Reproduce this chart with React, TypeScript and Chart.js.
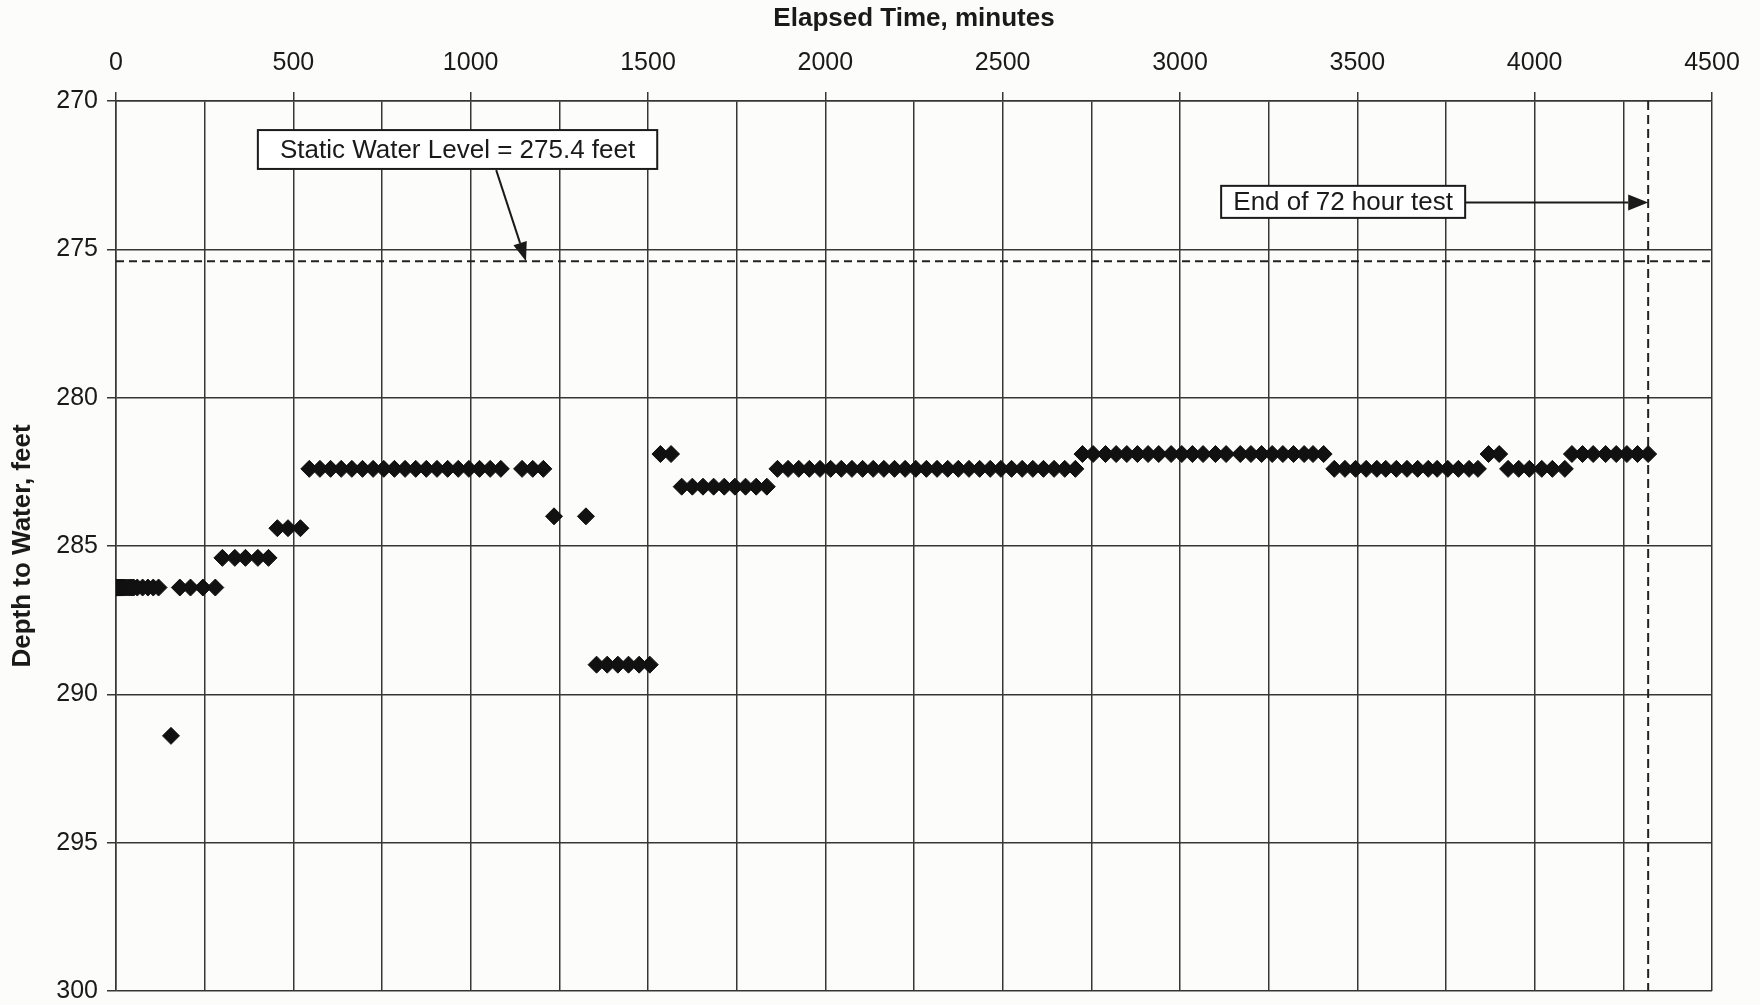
import React, { useEffect, useRef } from 'react';
import { Chart, registerables } from 'chart.js';

Chart.register(...registerables);

const FONT = '"Liberation Sans", Arial, Helvetica, sans-serif';
const INK = '#1a1a1a';
const GRID = '#363636';
const PAGE_BG = '#fcfcfa';

// axes
const X_MIN = 0;
const X_MAX = 4500;
const X_GRID_STEP = 250;
const X_LABEL_STEP = 500;
const Y_MIN = 270;
const Y_MAX = 300;
const Y_STEP = 5;
const X_TITLE = 'Elapsed Time, minutes';
const Y_TITLE = 'Depth to Water, feet';

// readings (elapsed minutes, depth to water in feet)
const READING_TIMES = [
  0, 1, 2, 3, 4, 5, 6, 7, 8, 9, 10, 12, 14, 16, 18, 20, 25, 30, 35, 40, 45, 50, 60, 75, 90, 105, 120,
  155,
  180, 210, 245, 280,
  300, 335, 365, 400, 430,
  455, 485, 520,
  545, 575, 605, 635, 665, 695, 725, 755, 785, 815, 845, 875, 905, 935, 965, 995, 1025, 1055, 1085, 1145, 1175, 1205,
  1235, 1325,
  1355, 1385, 1415, 1445, 1475, 1505,
  1535, 1565,
  1595, 1625, 1655, 1685, 1715, 1745, 1775, 1805, 1835,
  1865, 1895, 1925, 1955, 1985, 2015, 2045, 2075, 2105, 2135, 2165, 2195, 2225, 2255, 2285, 2315, 2345, 2375, 2405, 2435, 2465, 2495, 2525, 2555, 2585, 2615, 2645, 2675, 2705,
  2725, 2755, 2790, 2820, 2850, 2880, 2910, 2940, 2975, 3005, 3035, 3065, 3100, 3130,
  3170, 3200, 3230, 3260, 3290, 3320, 3350, 3375, 3405,
  3435, 3465, 3495, 3525, 3555, 3580, 3610, 3640, 3670, 3700, 3725, 3755, 3785, 3815, 3840,
  3870, 3900,
  3925, 3955, 3985, 4020, 4050, 4085,
  4105, 4135, 4165, 4200, 4230, 4260, 4290, 4320,
];

const READING_DEPTHS = [
  286.4, 286.4, 286.4, 286.4, 286.4, 286.4, 286.4, 286.4, 286.4, 286.4, 286.4, 286.4, 286.4, 286.4, 286.4, 286.4, 286.4, 286.4, 286.4, 286.4, 286.4, 286.4, 286.4, 286.4, 286.4, 286.4, 286.4,
  291.4,
  286.4, 286.4, 286.4, 286.4,
  285.4, 285.4, 285.4, 285.4, 285.4,
  284.4, 284.4, 284.4,
  282.4, 282.4, 282.4, 282.4, 282.4, 282.4, 282.4, 282.4, 282.4, 282.4, 282.4, 282.4, 282.4, 282.4, 282.4, 282.4, 282.4, 282.4, 282.4, 282.4, 282.4, 282.4,
  284.0, 284.0,
  289.0, 289.0, 289.0, 289.0, 289.0, 289.0,
  281.9, 281.9,
  283.0, 283.0, 283.0, 283.0, 283.0, 283.0, 283.0, 283.0, 283.0,
  282.4, 282.4, 282.4, 282.4, 282.4, 282.4, 282.4, 282.4, 282.4, 282.4, 282.4, 282.4, 282.4, 282.4, 282.4, 282.4, 282.4, 282.4, 282.4, 282.4, 282.4, 282.4, 282.4, 282.4, 282.4, 282.4, 282.4, 282.4, 282.4,
  281.9, 281.9, 281.9, 281.9, 281.9, 281.9, 281.9, 281.9, 281.9, 281.9, 281.9, 281.9, 281.9, 281.9,
  281.9, 281.9, 281.9, 281.9, 281.9, 281.9, 281.9, 281.9, 281.9,
  282.4, 282.4, 282.4, 282.4, 282.4, 282.4, 282.4, 282.4, 282.4, 282.4, 282.4, 282.4, 282.4, 282.4, 282.4,
  281.9, 281.9,
  282.4, 282.4, 282.4, 282.4, 282.4, 282.4,
  281.9, 281.9, 281.9, 281.9, 281.9, 281.9, 281.9, 281.9,
];

const STATIC_WATER_LEVEL = 275.4;
const END_OF_TEST_MIN = 4320;

const STATIC_LABEL = 'Static Water Level = 275.4 feet';
const END_LABEL = 'End of 72 hour test';

// annotation anchors in data units (minutes, feet)
const STATIC_BOX = { x1: 400, x2: 1526, y1: 270.98, y2: 272.29 };
const STATIC_ARROW = { fromX: 1072, fromY: 272.33, toX: 1156, toY: STATIC_WATER_LEVEL };
const END_BOX = { x1: 3116, x2: 3804, y1: 272.86, y2: 273.94 };
const END_ARROW = { fromX: 3804, fromY: 273.42, toX: END_OF_TEST_MIN, toY: 273.42 };

function drawArrow(ctx: CanvasRenderingContext2D, x1: number, y1: number, x2: number, y2: number, headLen: number, headHalf: number) {
  const ang = Math.atan2(y2 - y1, x2 - x1);
  const bx = x2 - headLen * Math.cos(ang);
  const by = y2 - headLen * Math.sin(ang);
  ctx.beginPath();
  ctx.moveTo(x1, y1);
  ctx.lineTo(bx, by);
  ctx.stroke();
  ctx.beginPath();
  ctx.moveTo(x2, y2);
  ctx.lineTo(bx + headHalf * Math.sin(ang), by - headHalf * Math.cos(ang));
  ctx.lineTo(bx - headHalf * Math.sin(ang), by + headHalf * Math.cos(ang));
  ctx.closePath();
  ctx.fill();
}

function drawBox(ctx: CanvasRenderingContext2D, chart: any, box: { x1: number; x2: number; y1: number; y2: number }, text: string) {
  const xs = chart.scales.x;
  const ys = chart.scales.y;
  const l = xs.getPixelForValue(box.x1);
  const r = xs.getPixelForValue(box.x2);
  const t = ys.getPixelForValue(box.y1);
  const b = ys.getPixelForValue(box.y2);
  ctx.fillStyle = '#ffffff';
  ctx.fillRect(l, t, r - l, b - t);
  ctx.lineWidth = 2;
  ctx.strokeStyle = INK;
  ctx.strokeRect(l, t, r - l, b - t);
  ctx.fillStyle = INK;
  ctx.font = `26px ${FONT}`;
  ctx.textAlign = 'center';
  ctx.textBaseline = 'middle';
  ctx.fillText(text, (l + r) / 2, (t + b) / 2 + 1);
}

const annotationPlugin = {
  id: 'pumpTestAnnotations',
  afterDatasetsDraw(chart: any) {
    const ctx: CanvasRenderingContext2D = chart.ctx;
    const xs = chart.scales.x;
    const ys = chart.scales.y;
    ctx.save();
    drawBox(ctx, chart, STATIC_BOX, STATIC_LABEL);
    drawBox(ctx, chart, END_BOX, END_LABEL);
    ctx.strokeStyle = INK;
    ctx.fillStyle = INK;
    ctx.lineWidth = 2;
    drawArrow(
      ctx,
      xs.getPixelForValue(STATIC_ARROW.fromX),
      ys.getPixelForValue(STATIC_ARROW.fromY),
      xs.getPixelForValue(STATIC_ARROW.toX),
      ys.getPixelForValue(STATIC_ARROW.toY),
      19,
      7
    );
    drawArrow(
      ctx,
      xs.getPixelForValue(END_ARROW.fromX),
      ys.getPixelForValue(END_ARROW.fromY),
      xs.getPixelForValue(END_ARROW.toX),
      ys.getPixelForValue(END_ARROW.toY),
      20,
      8
    );
    ctx.restore();
  },
};

export default function App() {
  const canvasRef = useRef<HTMLCanvasElement | null>(null);

  useEffect(() => {
    if (!canvasRef.current) return;
    const points = READING_TIMES.map((t, i) => ({ x: t, y: READING_DEPTHS[i] }));
    const chart = new Chart(canvasRef.current, {
      type: 'scatter',
      data: {
        datasets: [
          {
            label: 'Depth to water',
            data: points,
            pointStyle: 'rectRot',
            pointRadius: 8.5,
            pointHoverRadius: 8.5,
            backgroundColor: '#111111',
            borderColor: '#111111',
            borderWidth: 1,
          },
          {
            label: 'Static water level',
            data: [
              { x: X_MIN, y: STATIC_WATER_LEVEL },
              { x: X_MAX, y: STATIC_WATER_LEVEL },
            ],
            showLine: true,
            pointRadius: 0,
            borderColor: '#222222',
            borderWidth: 2,
            borderDash: [8, 5],
          },
          {
            label: 'End of test',
            data: [
              { x: END_OF_TEST_MIN, y: Y_MIN },
              { x: END_OF_TEST_MIN, y: Y_MAX },
            ],
            showLine: true,
            pointRadius: 0,
            borderColor: '#222222',
            borderWidth: 2,
            borderDash: [9, 5],
          },
        ],
      } as any,
      options: {
        animation: false,
        responsive: false,
        events: [],
        layout: { padding: { left: 0, top: 0, right: 48, bottom: 14 } },
        plugins: {
          legend: { display: false },
          tooltip: { enabled: false },
        },
        scales: {
          x: {
            type: 'linear',
            position: 'top',
            min: X_MIN,
            max: X_MAX,
            afterFit: (scale: any) => {
              scale.height = 101;
            },
            ticks: {
              stepSize: X_GRID_STEP,
              autoSkip: false,
              maxRotation: 0,
              padding: 14,
              color: INK,
              font: { family: FONT, size: 25 },
              callback: (v: any) => (Number(v) % X_LABEL_STEP === 0 ? String(v) : ''),
            },
            grid: {
              color: GRID,
              lineWidth: 1.5,
              tickLength: 9,
              tickColor: (ctx: any) =>
                ctx.tick && ctx.tick.value % X_LABEL_STEP === 0 ? GRID : 'rgba(0,0,0,0)',
            },
            border: { display: true, color: GRID, width: 1.5 },
            title: {
              display: true,
              text: X_TITLE,
              color: INK,
              font: { family: FONT, size: 26, weight: 'bold' },
              padding: { top: 3, bottom: 0 },
            },
          },
          y: {
            type: 'linear',
            position: 'left',
            reverse: true,
            min: Y_MIN,
            max: Y_MAX,
            afterFit: (scale: any) => {
              scale.width = 116;
              scale.paddingTop = 0;
              scale.paddingBottom = 0;
            },
            ticks: {
              stepSize: Y_STEP,
              padding: 9,
              color: INK,
              font: { family: FONT, size: 25 },
            },
            grid: {
              color: GRID,
              lineWidth: 1.5,
              tickLength: 9,
              tickColor: GRID,
            },
            border: { display: true, color: GRID, width: 1.5 },
            title: {
              display: true,
              text: Y_TITLE,
              color: INK,
              font: { family: FONT, size: 26, weight: 'bold' },
              padding: { top: 7, bottom: 0 },
            },
          },
        },
      } as any,
      plugins: [annotationPlugin],
    });
    return () => chart.destroy();
  }, []);

  return (
    <div
      style={{
        position: 'absolute',
        left: 0,
        top: 0,
        width: 1760,
        height: 1005,
        background: PAGE_BG,
        overflow: 'hidden',
      }}
    >
      <canvas ref={canvasRef} width={1760} height={1005} style={{ display: 'block', width: 1760, height: 1005 }} />
    </div>
  );
}
